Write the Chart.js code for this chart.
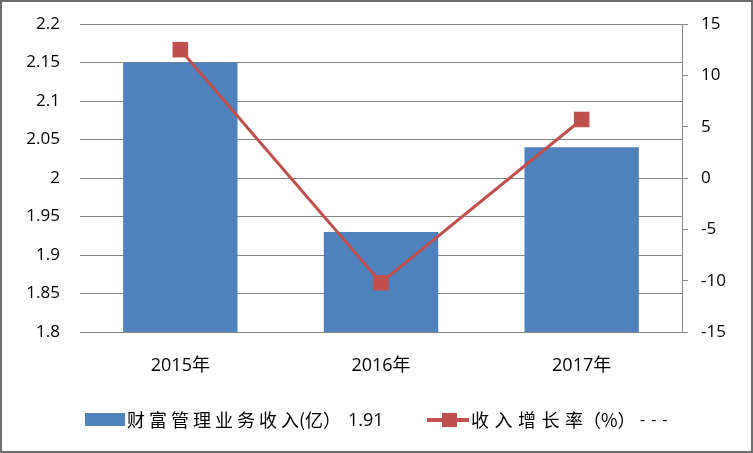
<!DOCTYPE html>
<html><head><meta charset="utf-8">
<script src="https://cdn.jsdelivr.net/npm/chart.js@4/dist/chart.umd.min.js"></script>
<style>
html,body{margin:0;padding:0;background:#fff;}
#wrap{position:relative;width:753px;height:453px;overflow:hidden;}
#c{position:absolute;left:0;top:0;}
#frame{position:absolute;left:0;top:0;width:753px;height:453px;box-sizing:border-box;border:2px solid #6e6e6e;pointer-events:none;}
.lg{position:absolute;font-family:"Noto Sans CJK SC",sans-serif;font-size:18px;color:#000;line-height:24px;white-space:nowrap;top:407px;}
.num{font-family:"Open Sans","Noto Sans CJK SC",sans-serif;}
</style></head>
<body>
<div id="wrap">
<canvas id="c" width="753" height="453"></canvas>
<div style="position:absolute;left:85px;top:413px;width:40px;height:13px;background:#4F81BD;"></div>
<div class="lg" style="left:127px;letter-spacing:4px;">财富管理业务收入</div>
<div class="lg" style="left:299px;">(亿）</div>
<div class="lg num" style="left:348px;">1.91</div>
<div style="position:absolute;left:427px;top:418px;width:42px;height:4px;background:#C0504D;"></div>
<div style="position:absolute;left:442px;top:413px;width:15px;height:14px;background:#C0504D;"></div>
<div class="lg" style="left:471px;letter-spacing:5.5px;">收入增长率</div>
<div class="lg" style="left:583px;">（%）</div>
<div class="lg num" style="left:640px;letter-spacing:6px;font-size:16px;">---</div>
<div id="frame"></div>
</div>
<script>
const categories = ["2015年", "2016年", "2017年"];
const revenue = [2.15, 1.93, 2.04];
const growth = [12.5, -10.2, 5.7];
const leftTicks = [1.8, 2.2, 0.05];
const rightTicks = [-15, 15, 5];

const tickFont = {family: "'Open Sans','Noto Sans CJK SC',sans-serif", size: 17};
const xFont = {family: "'Open Sans','Noto Sans CJK SC',sans-serif", size: 18};
new Chart(document.getElementById('c'), {
  data: {
    labels: categories,
    datasets: [
      {type: 'line', label: '收入增长率（%）', data: growth, yAxisID: 'y2', order: 0,
       borderColor: '#C0504D', borderWidth: 3, backgroundColor: '#C0504D',
       pointStyle: 'rect', pointRadius: 11, pointHoverRadius: 11,
       pointBackgroundColor: '#C0504D', pointBorderColor: '#C0504D', pointBorderWidth: 0, tension: 0},
      {type: 'bar', label: '财富管理业务收入(亿）1.91', data: revenue, yAxisID: 'y', order: 1,
       backgroundColor: '#4F81BD', barPercentage: 0.57, categoryPercentage: 1.0}
    ]
  },
  options: {
    responsive: false, animation: false,
    layout: {padding: {top: 24, left: 0, right: 0, bottom: 0}},
    plugins: {legend: {display: false}, tooltip: {enabled: false}},
    scales: {
      x: {
        grid: {display: false}, border: {display: false},
        ticks: {font: xFont, color: '#000', padding: 15, maxRotation: 0},
        afterFit: s => { s.height = 121; }
      },
      y: {
        position: 'left', min: leftTicks[0], max: leftTicks[1],
        grid: {color: '#868686', lineWidth: 1, drawTicks: true, tickLength: 16, tickColor: 'rgba(0,0,0,0)'},
        border: {display: false},
        ticks: {stepSize: leftTicks[2], font: tickFont, color: '#000', padding: 4,
                callback: v => String(+v.toFixed(2))},
        afterFit: s => { s.width = 80; }
      },
      y2: {
        position: 'right', min: rightTicks[0], max: rightTicks[1],
        grid: {drawOnChartArea: false, color: '#868686', tickLength: 6, drawTicks: true},
        border: {display: true, color: '#868686', width: 1},
        ticks: {stepSize: rightTicks[2], font: tickFont, color: '#000', padding: 13},
        afterFit: s => { s.width = 71; }
      }
    }
  }
});
</script>
</body></html>
